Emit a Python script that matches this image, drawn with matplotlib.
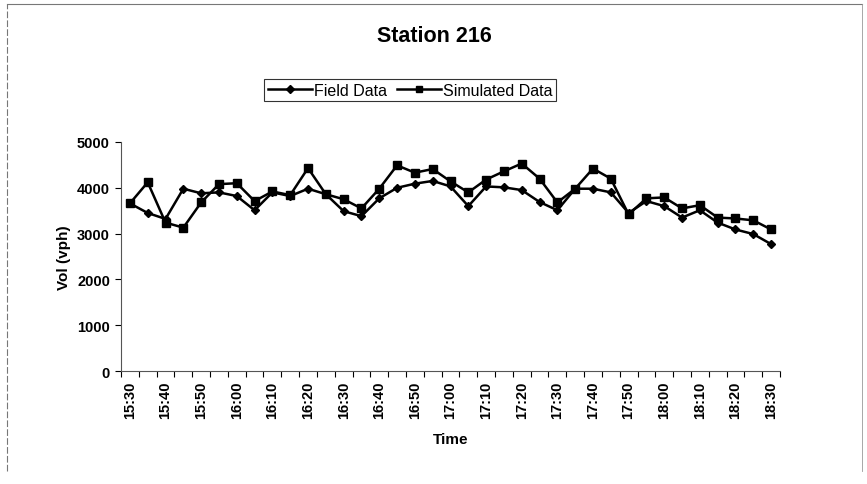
import matplotlib.pyplot as plt
from matplotlib.lines import Line2D

# 5-minute counts, 15:30 to 18:30
times = ["15:30", "15:35", "15:40", "15:45", "15:50", "15:55", "16:00", "16:05",
         "16:10", "16:15", "16:20", "16:25", "16:30", "16:35", "16:40", "16:45",
         "16:50", "16:55", "17:00", "17:05", "17:10", "17:15", "17:20", "17:25",
         "17:30", "17:35", "17:40", "17:45", "17:50", "17:55", "18:00", "18:05",
         "18:10", "18:15", "18:20", "18:25", "18:30"]

field = [3660, 3450, 3320, 3980, 3880, 3900, 3820, 3510, 3900, 3820, 3980, 3860,
         3490, 3380, 3770, 4000, 4090, 4150, 4030, 3600, 4030, 4010, 3950, 3690,
         3510, 3980, 3980, 3900, 3450, 3710, 3600, 3350, 3510, 3240, 3090, 2990, 2770]

simulated = [3660, 4120, 3240, 3130, 3680, 4080, 4100, 3710, 3920, 3840, 4430, 3860,
             3750, 3550, 3980, 4490, 4330, 4410, 4140, 3900, 4180, 4360, 4530, 4200,
             3680, 3980, 4420, 4200, 3420, 3770, 3790, 3550, 3620, 3350, 3330, 3290, 3090]

plt.rcParams["font.family"] = ["Liberation Sans", "DejaVu Sans"]

fig = plt.figure(figsize=(8.67, 4.85), dpi=100)
ax = fig.add_axes([121 / 867, 1 - 372 / 485, 659 / 867, 229 / 485])

x = list(range(len(times)))
ax.plot(x, field, color="black", linewidth=1.8, marker="D", markersize=4.5,
        label="Field Data")
ax.plot(x, simulated, color="black", linewidth=1.8, marker="s", markersize=6,
        label="Simulated Data")

ax.set_xlim(-0.5, len(times) - 0.5)
ax.set_ylim(0, 5000)
ax.set_yticks([0, 1000, 2000, 3000, 4000, 5000])
ax.tick_params(axis="y", labelsize=10.5, length=4, width=0.8, pad=4)
for t in ax.get_yticklabels():
    t.set_fontweight("bold")

# category boundaries get the tick marks, labels sit between them
ax.set_xticks([i - 0.5 for i in range(len(times) + 1)])
ax.set_xticklabels([])
ax.tick_params(axis="x", which="major", length=4, width=0.8)
ax.set_xticks(x[::2], minor=True)
ax.set_xticklabels(times[::2], minor=True, rotation=90, fontsize=10.5,
                   fontweight="bold")
ax.tick_params(axis="x", which="minor", length=0, pad=7)

for s in ["top", "right"]:
    ax.spines[s].set_visible(False)
ax.spines["left"].set_color("#555555")
ax.spines["bottom"].set_color("#555555")

ax.set_ylabel("Vol (vph)", fontsize=11, fontweight="bold", labelpad=4)
ax.set_xlabel("Time", fontsize=11, fontweight="bold", labelpad=10)

fig.text(434 / 867, 1 - 36 / 485, "Station 216", ha="center", va="center",
         fontsize=15.5, fontweight="bold")

handles = [Line2D([], [], color="black", linewidth=1.8, marker="D", markersize=4.5),
           Line2D([], [], color="black", linewidth=1.8, marker="s", markersize=5)]
leg = fig.legend(handles, ["Field Data", "Simulated Data"], ncol=2,
                 loc="center", bbox_to_anchor=(410 / 867, 1 - 91 / 485),
                 fontsize=11.5, frameon=True, fancybox=False, handlelength=2.8,
                 handletextpad=0.1, columnspacing=0.6, borderpad=0.25)
leg.get_frame().set_edgecolor("black")
leg.get_frame().set_linewidth(0.8)

# outer chart border
fig.add_artist(Line2D([7 / 867, 7 / 867], [1 - 472 / 485, 1 - 5 / 485],
                      color="#777777", linewidth=0.8, linestyle=(0, (6, 2))))
fig.add_artist(Line2D([7 / 867, 862 / 867], [1 - 5 / 485, 1 - 5 / 485],
                      color="#777777", linewidth=0.8))
fig.add_artist(Line2D([862 / 867, 862 / 867], [1 - 5 / 485, 1 - 472 / 485],
                      color="#999999", linewidth=0.6))

fig.savefig("out.png", dpi=100)
